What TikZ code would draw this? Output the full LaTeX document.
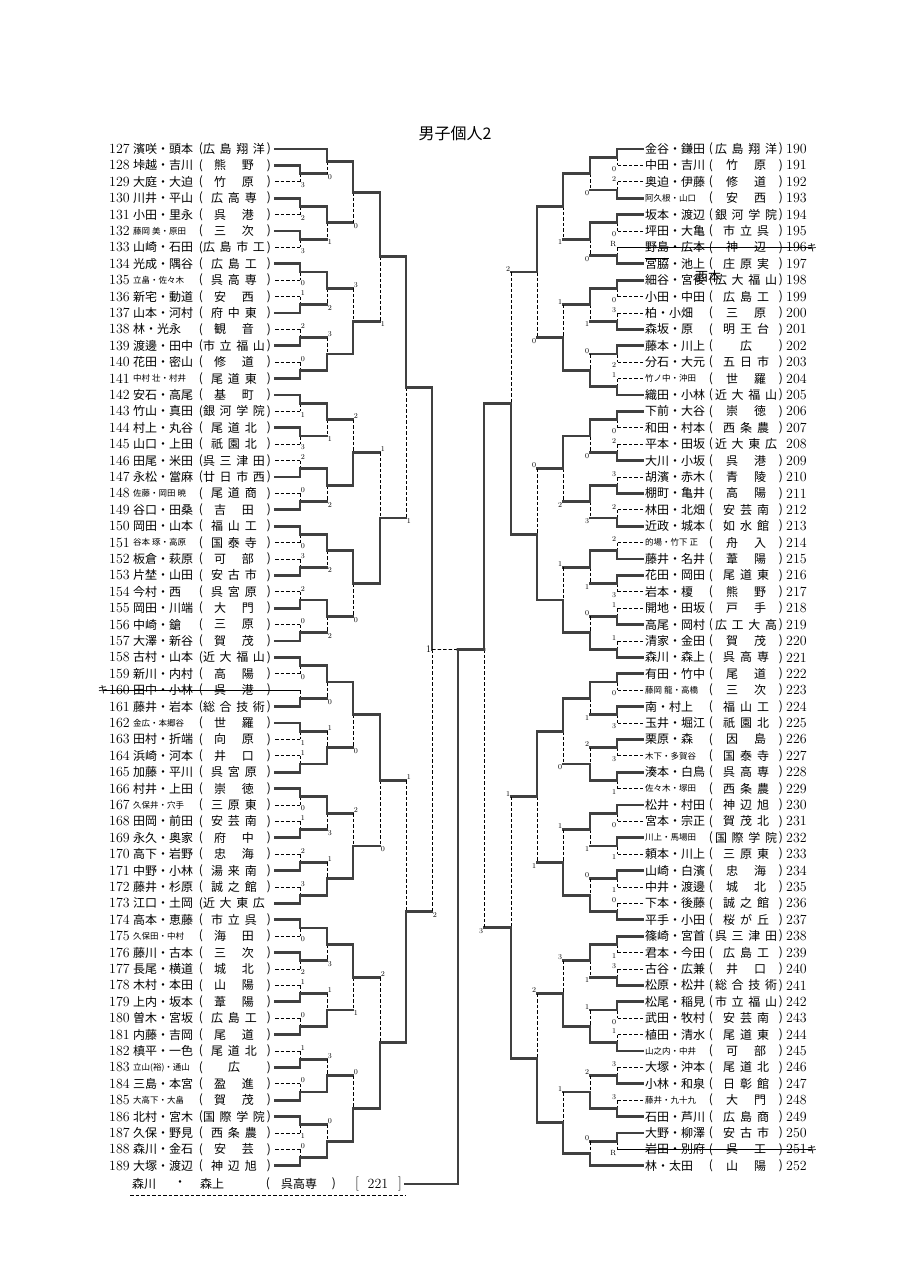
\documentclass[tikz,border=0pt]{standalone}
\usepackage{fontspec}
\usepackage{graphicx}
\usepackage{tikz}
\usetikzlibrary{calc, positioning}
\newfontfamily\jp{Noto Sans CJK JP}
\newsavebox\tmpbx
% long pair names are set smaller
\newcommand\pn[1]{\sbox\tmpbx{#1}\ifdim\wd\tmpbx>62pt{\fontsize{8.5}{9}\selectfont#1}\else#1\fi}
% school names spread between the brackets
\newcommand\sch[1]{\sbox\tmpbx{#1}%
  \ifdim\wd\tmpbx<30pt\makebox[40pt][s]{#1}%
  \else\ifdim\wd\tmpbx<46pt\makebox[46pt][s]{#1}%
  \else\makebox[62pt][s]{#1}\fi\fi}
% one bout: column, upper, lower, winner (t/b), games of loser, name, line of loser
\newcommand\bout[7]{%
  \coordinate (#6t) at (#2 -| #1);
  \coordinate (#6b) at (#3 -| #1);
  \coordinate (#6) at ($(#6t)!.5!(#6b)$);
  \if#4t
    \draw[#7] (#3) -- (#6b);
    \draw[lose] (#6) -- (#6b);
    \draw[win] (#2) -- (#6t) -- (#6);
    \node[score, lbb] (#6s) at (#6b) {#5};
  \else
    \draw[#7] (#2) -- (#6t);
    \draw[lose] (#6t) -- (#6);
    \draw[win] (#3) -- (#6b) -- (#6);
    \node[score, lbt] (#6s) at (#6t) {#5};
  \fi}

\begin{document}
\begin{tikzpicture}[
    x=1pt, y=-1pt,
    win/.style={line width=2.9pt, draw=black!75, line cap=rect},
    lose/.style={line width=0.85pt, draw=black, dash pattern=on 3.5pt off 2pt},
    strike/.style={line width=0.8pt, draw=black},
    num/.style={font=\fontsize{14}{14}\selectfont, inner sep=0pt},
    pname/.style={font=\jp\fontsize{12}{12}\selectfont, inner sep=0pt},
    school/.style={font=\jp\fontsize{12}{12}\selectfont, inner sep=0pt},
    kiken/.style={font=\jp\fontsize{10}{10}\selectfont, inner sep=0pt},
    score/.style={font=\fontsize{7.5}{7.5}\selectfont, inner sep=0.6pt},
    lbt/.style={anchor=south west},
    lbb/.style={anchor=north west}
]
\fill[white] (0,0) rectangle (905,1280);
\useasboundingbox (0,0) rectangle (905,1280);

\node[font=\jp\fontsize{16}{16}\selectfont] (title) at (455,133) {男子個人2};

% Columns
\coordinate (cL1) at (300,0); \coordinate (cL2) at (327,0); \coordinate (cL3) at (353,0);
\coordinate (cL4) at (380,0); \coordinate (cL5) at (406,0); \coordinate (cL6) at (432,0);
\coordinate (cR1) at (617,0); \coordinate (cR2) at (590,0); \coordinate (cR3) at (563,0);
\coordinate (cR4) at (537,0); \coordinate (cR5) at (511,0); \coordinate (cR6) at (484,0);

% Left entries
\foreach \nr/\nm/\sh in {127/濱咲・頭本/広 島 翔 洋, 128/垰越・吉川/熊 野, 129/大庭・大迫/竹 原,
  130/川井・平山/広 高 専, 131/小田・里永/呉 港, 132/藤岡 美・原田/三 次, 133/山崎・石田/広 島 市 工,
  134/光成・隅谷/広 島 工, 135/立畠・佐々木/呉 高 専, 136/新宅・動道/安 西, 137/山本・河村/府 中 東,
  138/林・光永/観 音, 139/渡邊・田中/市 立 福 山, 140/花田・密山/修 道, 141/中村 壮・村井/尾 道 東,
  142/安石・高尾/基 町, 143/竹山・真田/銀 河 学 院, 144/村上・丸谷/尾 道 北, 145/山口・上田/祇 園 北,
  146/田尾・米田/呉 三 津 田, 147/永松・當麻/廿 日 市 西, 148/佐藤・岡田 暁/尾 道 商, 149/谷口・田桑/吉 田,
  150/岡田・山本/福 山 工, 151/谷本 琢・高原/国 泰 寺, 152/板倉・萩原/可 部, 153/片埜・山田/安 古 市,
  154/今村・西/呉 宮 原, 155/岡田・川端/大 門, 156/中崎・鎗/三 原, 157/大澤・新谷/賀 茂,
  158/古村・山本/近 大 福 山, 159/新川・内村/高 陽, 160/田中・小林/呉 港, 161/藤井・岩本/総 合 技 術,
  162/金広・本郷谷/世 羅, 163/田村・折端/向 原, 164/浜崎・河本/井 口, 165/加藤・平川/呉 宮 原,
  166/村井・上田/崇 徳, 167/久保井・穴手/三 原 東, 168/田岡・前田/安 芸 南, 169/永久・奥家/府 中,
  170/高下・岩野/忠 海, 171/中野・小林/湯 来 南, 172/藤井・杉原/誠 之 館, 173/江口・土岡/近 大 東 広,
  174/高本・恵藤/市 立 呉, 175/久保田・中村/海 田, 176/藤川・古本/三 次, 177/長尾・横道/城 北,
  178/木村・本田/山 陽, 179/上内・坂本/葦 陽, 180/曽木・宮坂/広 島 工, 181/内藤・吉岡/尾 道,
  182/槙平・一色/尾 道 北, 183/立山(裕)・通山/\hfil 広\hfil, 184/三島・本宮/盈 進, 185/大高下・大畠/賀 茂,
  186/北村・宮木/国 際 学 院, 187/久保・野見/西 条 農, 188/森川・金石/安 芸, 189/大塚・渡辺/神 辺 旭} {
  \pgfmathsetmacro\yy{149+16.4*(\nr-127)}
  \node[num, anchor=east] (k\nr) at (130,\yy) {\nr};
  \node[pname, anchor=west] (n\nr) at (133,\yy) {\pn{\nm}};
  \node[school] (o\nr) at (201,\yy) {(};
  \node[school] (s\nr) at (234,\yy) {\sch{\sh}};
  \ifnum\nr=173 \else \node[school] (c\nr) at (269,\yy) {)}; \fi
  \coordinate (e\nr) at (275,\yy);
}

% Right entries
\foreach \nr/\nm/\sh in {190/金谷・鎌田/広 島 翔 洋, 191/中田・吉川/竹 原, 192/奥迫・伊藤/修 道,
  193/阿久根・山口/安 西, 194/坂本・渡辺/銀 河 学 院, 195/坪田・大亀/市 立 呉, 196/野島・広本/神 辺,
  197/宮脇・池上/庄 原 実, 198/細谷・宮後/広 大 福 山, 199/小田・中田/広 島 工, 200/柏・小畑/三 原,
  201/森坂・原/明 王 台, 202/藤本・川上/\hfil 広\hfil, 203/分石・大元/五 日 市, 204/竹ノ中・沖田/世 羅,
  205/織田・小林/近 大 福 山, 206/下前・大谷/崇 徳, 207/和田・村本/西 条 農, 208/平本・田坂/近 大 東 広,
  209/大川・小坂/呉 港, 210/胡濱・赤木/青 陵, 211/棚町・亀井/高 陽, 212/林田・北畑/安 芸 南,
  213/近政・城本/如 水 館, 214/的場・竹下 正/舟 入, 215/藤井・名井/葦 陽, 216/花田・岡田/尾 道 東,
  217/岩本・榎/熊 野, 218/開地・田坂/戸 手, 219/高尾・岡村/広 工 大 高, 220/清家・金田/賀 茂,
  221/森川・森上/呉 高 専, 222/有田・竹中/尾 道, 223/藤岡 龍・高橋/三 次, 224/南・村上/福 山 工,
  225/玉井・堀江/祇 園 北, 226/栗原・森/因 島, 227/木下・多賀谷/国 泰 寺, 228/湊本・白鳥/呉 高 専,
  229/佐々木・塚田/西 条 農, 230/松井・村田/神 辺 旭, 231/宮本・宗正/賀 茂 北, 232/川上・馬場田/国 際 学 院,
  233/頼本・川上/三 原 東, 234/山崎・白濱/忠 海, 235/中井・渡邊/城 北, 236/下本・後藤/誠 之 館,
  237/平手・小田/桜 が 丘, 238/篠崎・宮首/呉 三 津 田, 239/君本・今田/広 島 工, 240/古谷・広兼/井 口,
  241/松原・松井/総 合 技 術, 242/松尾・稲見/市 立 福 山, 243/武田・牧村/安 芸 南, 244/植田・清水/尾 道 東,
  245/山之内・中井/可 部, 246/大塚・沖本/尾 道 北, 247/小林・和泉/日 彰 館, 248/藤井・九十九/大 門,
  249/石田・芦川/広 島 商, 250/大野・柳澤/安 古 市, 251/岩田・別府/呉 工, 252/林・太田/山 陽} {
  \pgfmathsetmacro\yy{149+16.4*(\nr-190)}
  \node[pname, anchor=west] (n\nr) at (645,\yy) {\pn{\nm}};
  \node[school] (o\nr) at (711,\yy) {(};
  \node[school] (s\nr) at (746,\yy) {\sch{\sh}};
  \ifnum\nr=208 \else \node[school] (c\nr) at (781,\yy) {)}; \fi
  \node[num, anchor=west] (k\nr) at (786,\yy) {\nr};
  \coordinate (e\nr) at (643,\yy);
}

% Left bracket
\foreach \mt/\mb/\mw/\ms/\mn in {e128/e129/t/3/a01, e130/e131/t/2/a02, e132/e133/t/3/a03, e134/e135/t/0/a04,
  e136/e137/b/1/a05, e138/e139/b/2/a06, e140/e141/b/0/a07, e142/e143/t/1/a08, e144/e145/t/3/a09,
  e146/e147/b/2/a10, e148/e149/b/0/a11, e150/e151/t/0/a12, e152/e153/b/3/a13, e154/e155/b/2/a14,
  e156/e157/b/0/a15, e158/e159/t/0/a16, e160/e161/b/{}/a17, e162/e163/t/1/a18, e164/e165/b/1/a19,
  e166/e167/t/0/a20, e168/e169/b/1/a21, e170/e171/b/2/a22, e172/e173/b/3/a23, e174/e175/t/0/a24,
  e176/e177/t/2/a25, e178/e179/b/1/a26, e180/e181/b/0/a27, e182/e183/b/1/a28, e184/e185/b/0/a29,
  e186/e187/t/1/a30, e188/e189/b/0/a31}
  {\bout{cL1}{\mt}{\mb}{\mw}{\ms}{\mn}{lose}}
\foreach \mt/\mb/\mw/\ms/\mn in {e127/a01/t/0/b01, a02/a03/t/1/b02, a04/a05/t/2/b03, a06/a07/b/3/b04,
  a08/a09/t/1/b05, a10/a11/t/2/b06, a12/a13/t/2/b07, a14/a15/t/2/b08, a16/a17/t/0/b09, a18/a19/b/1/b10,
  a20/a21/t/3/b11, a22/a23/b/1/b12, a24/a25/t/3/b13, a26/a27/b/1/b14, a28/a29/b/3/b15, a30/a31/b/0/b16}
  {\bout{cL2}{\mt}{\mb}{\mw}{\ms}{\mn}{win}}
\foreach \mt/\mb/\mw/\ms/\mn in {b01/b02/t/0/c1, b03/b04/b/3/c2, b05/b06/b/2/c3, b07/b08/t/0/c4,
  b09/b10/t/0/c5, b11/b12/b/2/c6, b13/b14/t/1/c7, b15/b16/b/0/c8}
  {\bout{cL3}{\mt}{\mb}{\mw}{\ms}{\mn}{win}}
\foreach \mt/\mb/\mw/\ms/\mn in {c1/c2/t/1/d1, c3/c4/b/1/d2, c5/c6/t/0/d3, c7/c8/b/2/d4}
  {\bout{cL4}{\mt}{\mb}{\mw}{\ms}{\mn}{win}}
\bout{cL5}{d1}{d2}{t}{1}{f1}{win}
\bout{cL5}{d3}{d4}{b}{1}{f2}{win}
\bout{cL6}{f1}{f2}{t}{2}{g}{win}

% Right bracket
\begin{scope}[lbt/.style={anchor=south east}, lbb/.style={anchor=north east}]
\foreach \mt/\mb/\mw/\ms/\mn in {e190/e191/t/0/A01, e192/e193/b/2/A02, e194/e195/t/0/A03, e196/e197/b/R/A04,
  e198/e199/t/0/A05, e200/e201/b/3/A06, e202/e203/t/2/A07, e204/e205/b/1/A08, e206/e207/t/0/A09,
  e208/e209/b/2/A10, e210/e211/b/3/A11, e212/e213/b/2/A12, e214/e215/b/2/A13, e216/e217/t/3/A14,
  e218/e219/b/1/A15, e220/e221/b/1/A16, e222/e223/t/0/A17, e224/e225/t/3/A18, e226/e227/t/3/A19,
  e228/e229/t/1/A20, e230/e231/t/0/A21, e232/e233/t/1/A22, e234/e235/t/1/A23, e236/e237/b/0/A24,
  e238/e239/t/1/A25, e240/e241/b/3/A26, e242/e243/t/0/A27, e244/e245/b/1/A28, e246/e247/b/3/A29,
  e248/e249/b/3/A30, e250/e251/t/R/A31}
  {\bout{cR1}{\mt}{\mb}{\mw}{\ms}{\mn}{lose}}
\foreach \mt/\mb/\mw/\ms/\mn in {A01/A02/t/0/B01, A03/A04/t/0/B02, A05/A06/t/1/B03, A07/A08/b/0/B04,
  A09/A10/t/0/B05, A11/A12/t/3/B06, A13/A14/t/1/B07, A15/A16/b/0/B08, A17/A18/t/1/B09, A19/A20/b/2/B10,
  A21/A22/t/1/B11, A23/A24/b/0/B12, A25/A26/t/1/B13, A27/A28/b/1/B14, A29/A30/b/2/B15, A31/e252/b/0/B16}
  {\bout{cR2}{\mt}{\mb}{\mw}{\ms}{\mn}{win}}
\foreach \mt/\mb/\mw/\ms/\mn in {B01/B02/t/1/C1, B03/B04/b/1/C2, B05/B06/t/2/C3, B07/B08/b/1/C4,
  B09/B10/t/0/C5, B11/B12/b/1/C6, B13/B14/b/3/C7, B15/B16/b/1/C8}
  {\bout{cR3}{\mt}{\mb}{\mw}{\ms}{\mn}{win}}
\foreach \mt/\mb/\mw/\ms/\mn in {C1/C2/t/0/D1, C3/C4/b/0/D2, C5/C6/t/1/D3, C7/C8/b/2/D4}
  {\bout{cR4}{\mt}{\mb}{\mw}{\ms}{\mn}{win}}
\bout{cR5}{D1}{D2}{b}{2}{F1}{win}
\bout{cR5}{D3}{D4}{b}{1}{F2}{win}
\end{scope}

% Right semi-final
\coordinate (Gt) at (F1 -| cR6);
\coordinate (Gb) at (F2 -| cR6);
\coordinate (G) at (g -| cR6);
\draw[win] (F2) -- (Gb);
\draw[lose] (G) -- (Gb);
\draw[win] (F1) -- (Gt) -- (G);
\node[score, anchor=north east] (Gs) at (Gb) {3};

% Final and winner
\node[pname] (fa) at (144,1184) {森川};
\node[pname] (fb) at (180,1184) {・};
\node[pname] (fc) at (212,1184) {森上};
\node[pname] (fd) at (268,1184) {(};
\node[pname] (fe) at (299,1184) {呉高専};
\node[pname] (ff) at (334,1184) {)};
\node[num] (fg) at (357,1184) {[};
\node[num] (fh) at (378,1184) {221};
\node[num] (fi) at (400,1184) {]};
\coordinate (champ) at (405,1184);
\coordinate (u1) at (130,1195);
\coordinate (u2) at (406,1195);
\draw[lose] (u1) -- (u2);
\coordinate (fin) at ($(g)!.5!(G)$);
\draw[lose] (g) -- (fin);
\draw[win] (G) -- (fin);
\draw[win] (champ) -- (champ -| fin) -- (fin);
\node[score, font=\fontsize{10}{10}\selectfont, anchor=east] (gs) at (g) {1};

% Withdrawals and change
\node[kiken, left=1pt of k160] (x160) {キ};
\draw[strike] (x160.center) -- (a17t);
\node[kiken, right=0pt of k196] (x196) {キ};
\draw[strike] (A04t) -- (x196.center);
\node[kiken, right=0pt of k251] (x251) {キ};
\draw[strike] (A31b) -- (x251.center);
\draw[strike] ([yshift=5pt]n197.west) -- ([yshift=5pt,xshift=24pt]n197.west);
\node[pname, font=\jp\fontsize{13}{13}\selectfont] (nishi) at (708,277) {西本};

\end{tikzpicture}
\end{document}
